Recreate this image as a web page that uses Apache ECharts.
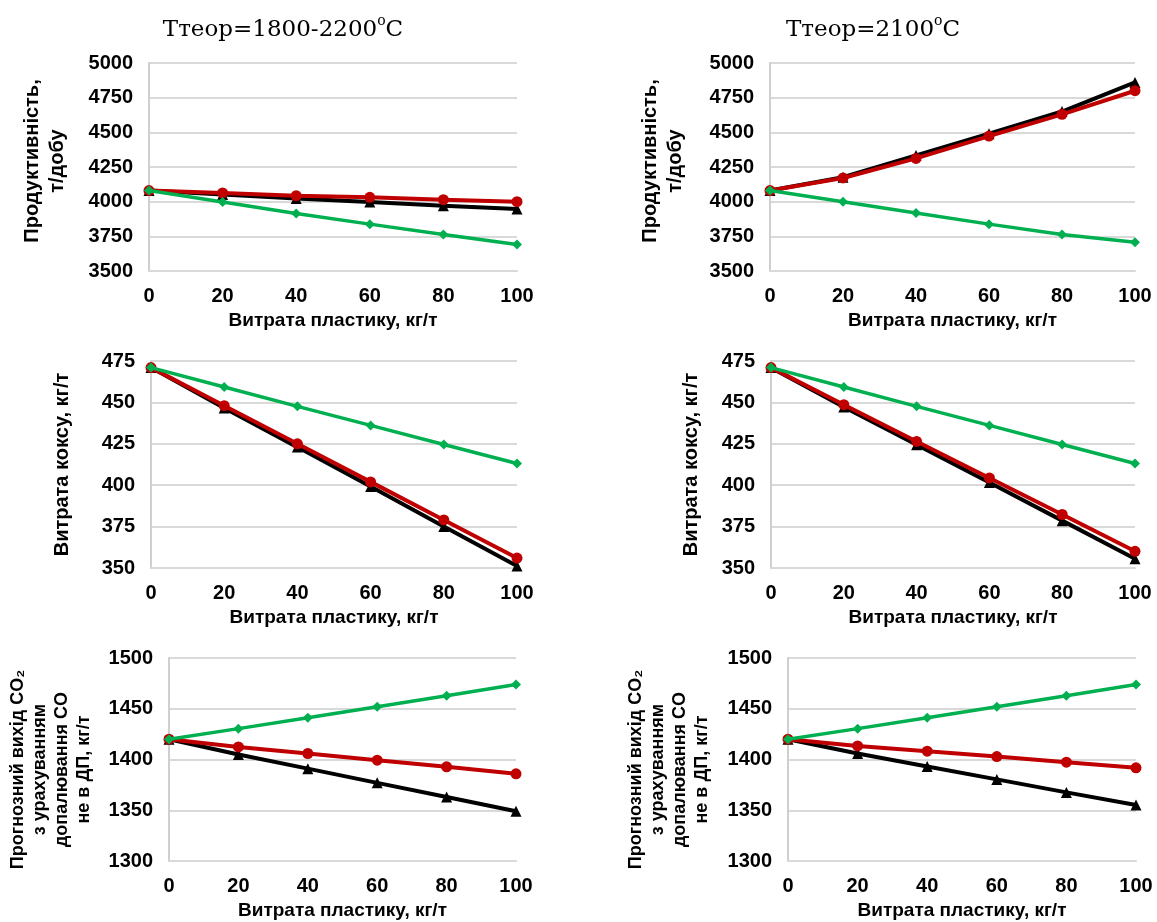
<!DOCTYPE html>
<html>
<head>
<meta charset="utf-8">
<script src="https://cdn.jsdelivr.net/npm/echarts@6/dist/echarts.min.js"></script>
<style>html,body{margin:0;padding:0;background:#fff;}#c{width:1157px;height:922px;}</style>
</head>
<body>
<div id="c"></div>
<script>
const xValues = [0, 20, 40, 60, 80, 100];
const xTicks = { min: 0, max: 100, interval: 20 };

const titleLeft = 'Ттеор=1800-2200';
const titleRight = 'Ттеор=2100';

const prod1800Black = [4080, 4051, 4022, 3998, 3971, 3947];
const prod1800Red   = [4080, 4063, 4043, 4031, 4014, 4000];
const prod1800Green = [4080, 3998, 3915, 3838, 3763, 3691];
const prod2100Black = [4080, 4176, 4333, 4490, 4650, 4860];
const prod2100Red   = [4080, 4171, 4312, 4473, 4630, 4800];
const prod2100Green = [4080, 4000, 3918, 3838, 3763, 3708];

const coke1800Black = [471, 446.6, 423.0, 399.2, 375.0, 351.2];
const coke1800Red   = [471, 448.0, 425.0, 402.0, 379.0, 356.0];
const coke1800Green = [471, 459.3, 447.6, 436.1, 424.6, 413.1];
const coke2100Black = [471, 447.2, 424.4, 401.6, 378.6, 355.6];
const coke2100Red   = [471, 448.6, 426.4, 404.4, 382.3, 360.1];
const coke2100Green = [471, 459.3, 447.6, 436.1, 424.6, 413.1];

const co2_1800Black = [1420, 1405.0, 1391.0, 1377.0, 1363.0, 1349.0];
const co2_1800Red   = [1420, 1412.4, 1405.9, 1399.3, 1392.8, 1385.9];
const co2_1800Green = [1420, 1430.4, 1441.2, 1452.0, 1462.8, 1473.9];
const co2_2100Black = [1420, 1405.9, 1393.1, 1380.4, 1367.6, 1355.2];
const co2_2100Red   = [1420, 1413.4, 1408.2, 1402.9, 1397.4, 1391.8];
const co2_2100Green = [1420, 1430.4, 1441.2, 1452.0, 1462.8, 1473.9];

const yProd = { min: 3500, max: 5000, interval: 250 };
const yCoke = { min: 350, max: 475, interval: 25 };
const yCo2  = { min: 1300, max: 1500, interval: 50 };

const xName = 'Витрата пластику, кг/т';
const nameProd = 'Продуктивність,\nт/добу';
const nameCoke = 'Витрата коксу, кг/т';
const nameCo2 = 'Прогнозний вихід CO₂\nз урахуванням\nдопалювання CO\nне в ДП, кг/т';

const panels = [
  { grid: { left: 149, top: 63, width: 368, height: 208 }, y: yProd, name: nameProd, gap: 79, fs: 20, lh: 25, pad: [0, 0, 0, 12], data: [prod1800Black, prod1800Red, prod1800Green] },
  { grid: { left: 770, top: 63, width: 365, height: 208 }, y: yProd, name: nameProd, gap: 82, fs: 20, lh: 25, pad: [0, 0, 0, 12], data: [prod2100Black, prod2100Red, prod2100Green] },
  { grid: { left: 151, top: 361, width: 366, height: 207 }, y: yCoke, name: nameCoke, gap: 77, fs: 20, lh: 24, pad: [0, 0, 0, 0], data: [coke1800Black, coke1800Red, coke1800Green] },
  { grid: { left: 771, top: 361, width: 364, height: 207 }, y: yCoke, name: nameCoke, gap: 68, fs: 20, lh: 24, pad: [0, 0, 0, 0], data: [coke2100Black, coke2100Red, coke2100Green] },
  { grid: { left: 169, top: 658, width: 347, height: 203 }, y: yCo2, name: nameCo2, gap: 74, fs: 18, lh: 22, pad: [0, 20, 0, 0], data: [co2_1800Black, co2_1800Red, co2_1800Green] },
  { grid: { left: 788, top: 658, width: 348, height: 203 }, y: yCo2, name: nameCo2, gap: 75, fs: 18, lh: 22, pad: [0, 20, 0, 0], data: [co2_2100Black, co2_2100Red, co2_2100Green] }
];

const seriesStyle = [
  { color: '#000000', symbol: 'triangle', size: 11, width: 4 },
  { color: '#c00000', symbol: 'circle', size: 11, width: 4 },
  { color: '#00b050', symbol: 'diamond', size: 10, width: 3.5 }
];

const grids = [], xAxes = [], yAxes = [], series = [];
panels.forEach((p, i) => {
  grids.push(Object.assign({ containLabel: false }, p.grid));
  xAxes.push({
    type: 'value', gridIndex: i, min: xTicks.min, max: xTicks.max, interval: xTicks.interval,
    name: xName, nameLocation: 'middle', nameGap: 40,
    nameTextStyle: { fontFamily: 'Liberation Sans', fontWeight: 'bold', fontSize: 19, color: '#000' },
    axisLine: { show: true, lineStyle: { color: '#d9d9d9', width: 2 } },
    axisTick: { show: false },
    splitLine: { show: false },
    axisLabel: { margin: 15, fontFamily: 'Liberation Sans', fontWeight: 'bold', fontSize: 20, color: '#000', formatter: v => String(v) }
  });
  yAxes.push({
    type: 'value', gridIndex: i, min: p.y.min, max: p.y.max, interval: p.y.interval,
    name: p.name, nameLocation: 'middle', nameRotate: 90, nameGap: p.gap,
    nameTextStyle: { fontFamily: 'Liberation Sans', fontWeight: 'bold', fontSize: p.fs, color: '#000', lineHeight: p.lh, padding: p.pad },
    axisLine: { show: true, lineStyle: { color: '#cfcfcf', width: 2 } },
    axisTick: { show: false },
    splitLine: { show: true, lineStyle: { color: '#d9d9d9', width: 2 } },
    axisLabel: { margin: 16, fontFamily: 'Liberation Sans', fontWeight: 'bold', fontSize: 20, color: '#000', formatter: v => String(v) }
  });
  p.data.forEach((vals, k) => {
    const s = seriesStyle[k];
    series.push({
      type: 'line', xAxisIndex: i, yAxisIndex: i,
      data: xValues.map((x, j) => [x, vals[j]]),
      symbol: s.symbol, symbolSize: s.size, showSymbol: true,
      lineStyle: { color: s.color, width: s.width },
      itemStyle: { color: s.color },
      z: 2 + k, animation: false
    });
  });
});

const titleRich = {
  a: { fontFamily: 'DejaVu Serif', fontWeight: 'normal', fontSize: 23, color: '#000', lineHeight: 28, verticalAlign: 'bottom' },
  s: { fontFamily: 'DejaVu Serif', fontWeight: 'normal', fontSize: 14, color: '#000', lineHeight: 20, verticalAlign: 'top' }
};

const chart = echarts.init(document.getElementById('c'), null, { renderer: 'canvas' });
chart.setOption({
  backgroundColor: '#fff',
  animation: false,
  title: [
    { text: '{a|' + titleLeft + '}{s|o}{a|C}', left: 278, top: 9, textAlign: 'center', textStyle: { fontWeight: 'normal', rich: titleRich } },
    { text: '{a|' + titleRight + '}{s|o}{a|C}', left: 868, top: 9, textAlign: 'center', textStyle: { fontWeight: 'normal', rich: titleRich } }
  ],
  grid: grids,
  xAxis: xAxes,
  yAxis: yAxes,
  series: series
});
</script>
</body>
</html>
